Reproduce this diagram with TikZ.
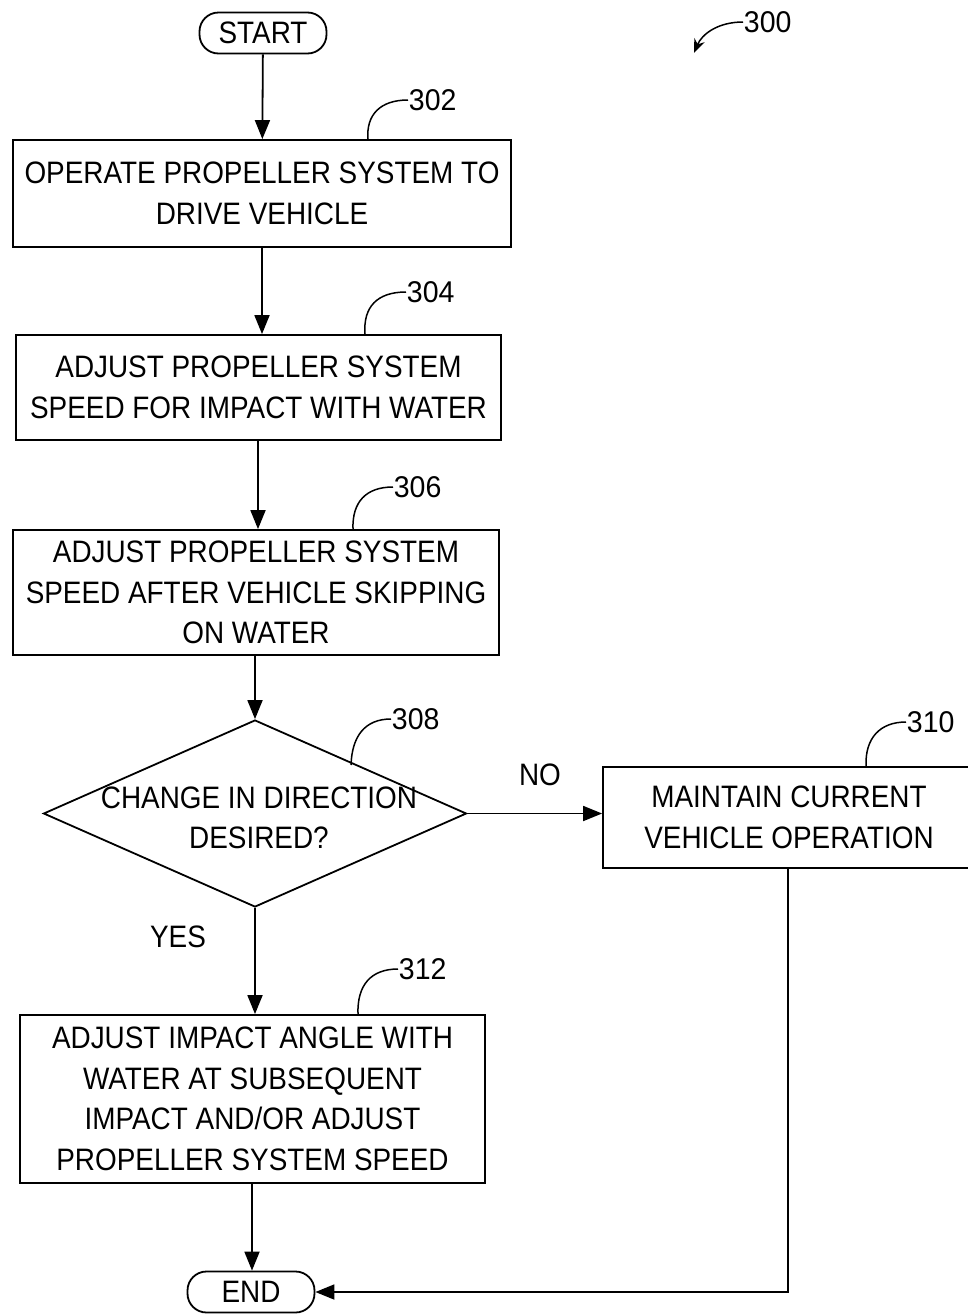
\documentclass[tikz,border=0pt]{standalone}
\usepackage{fontspec}
\setmainfont{Liberation Sans}[FakeStretch=0.9]
\newfontfamily\numfont{Liberation Sans}[FakeStretch=0.95]
\usetikzlibrary{shapes.geometric,arrows.meta}
\begin{document}
\begin{tikzpicture}[x=1pt,y=-1pt,
  line width=1.8pt,
  txt/.style={font=\fontsize{31}{40.5}\selectfont, align=center, inner sep=0pt},
  stepbox/.style={draw, txt, minimum width=#1},
  term/.style={draw, txt, rounded corners=19pt, minimum width=127pt, minimum height=41pt},
  flow/.style={-{Triangle[length=19pt,width=15pt]}},
  lead/.style={line width=1.5pt},
  refnum/.style={font=\numfont\fontsize{30}{30}\selectfont, inner sep=0pt, anchor=west}
]
\useasboundingbox (0,0) rectangle (968,1315);

\node[term] (start) at (263,33) {START};
\node[stepbox=498pt, minimum height=107pt] (s302) at (262,193.5) {OPERATE PROPELLER SYSTEM TO\\DRIVE VEHICLE};
\node[stepbox=485pt, minimum height=105pt] (s304) at (258.5,387.5) {ADJUST PROPELLER SYSTEM\\SPEED FOR IMPACT WITH WATER};
\node[stepbox=486pt, minimum height=125pt] (s306) at (256,592.5) {ADJUST PROPELLER SYSTEM\\SPEED AFTER VEHICLE SKIPPING\\ON WATER};
\node[draw, diamond, inner sep=0pt, minimum width=423pt, minimum height=187pt] (d308) at (255,813.5) {};
\node[txt] (d308t) at (259,818) {CHANGE IN DIRECTION\\DESIRED?};
\node[stepbox=372pt, minimum height=101pt] (s310) at (789,817.5) {MAINTAIN CURRENT\\VEHICLE OPERATION};
\node[stepbox=465pt, minimum height=168pt] (s312) at (252.5,1099) {ADJUST IMPACT ANGLE WITH\\WATER AT SUBSEQUENT\\IMPACT AND/OR ADJUST\\PROPELLER SYSTEM SPEED};
\node[term] (end) at (251,1292) {END};

\node[txt] (no) at (540,775) {NO};
\node[txt] (yes) at (178,937) {YES};

% connectors
\draw[flow] (start) -- (s302);
\draw[flow] (s302.south -| 262,0) -- (s304.north -| 262,0);
\draw[flow] (s304.south -| 258,0) -- (s306.north -| 258,0);
\draw[flow] (s306.south -| d308.north) -- (d308.north);
\draw[flow] (d308.east) -- (s310.west |- d308.east);
\draw[flow] (d308.south) -- (s312.north -| d308.south);
\draw[flow] (s312.south -| 252,0) -- (end.north -| 252,0);
\coordinate (c310) at (788,1292);
\draw[flow] (s310.south -| c310) -- (c310) -- (end.east);

% reference numerals
\node[refnum] (r300) at (743,22) {300};
\draw[lead, -{Stealth[length=14pt,width=11pt]}] (r300.west) .. controls (718,22) and (702,34) .. (694,53);

\node[refnum] (r302) at (408,100) {302};
\draw[lead] (s302.north -| 368,0) .. controls (366,115) and (380,100) .. (r302.west);
\node[refnum] (r304) at (406,292) {304};
\draw[lead] (s304.north -| 365,0) .. controls (363,307) and (377,292) .. (r304.west);
\node[refnum] (r306) at (393,487) {306};
\draw[lead] (s306.north -| 353,0) .. controls (352,502) and (366,487) .. (r306.west);
\node[refnum] (r308) at (391,719) {308};
\coordinate (l308) at (351,765);
\draw[lead] (l308) .. controls (352,736) and (365,719) .. (r308.west);
\node[refnum] (r310) at (906,722) {310};
\draw[lead] (s310.north -| 866,0) .. controls (865,738) and (880,722) .. (r310.west);
\node[refnum] (r312) at (398,969) {312};
\draw[lead] (s312.north -| 358,0) .. controls (357,985) and (371,969) .. (r312.west);
\end{tikzpicture}
\end{document}
